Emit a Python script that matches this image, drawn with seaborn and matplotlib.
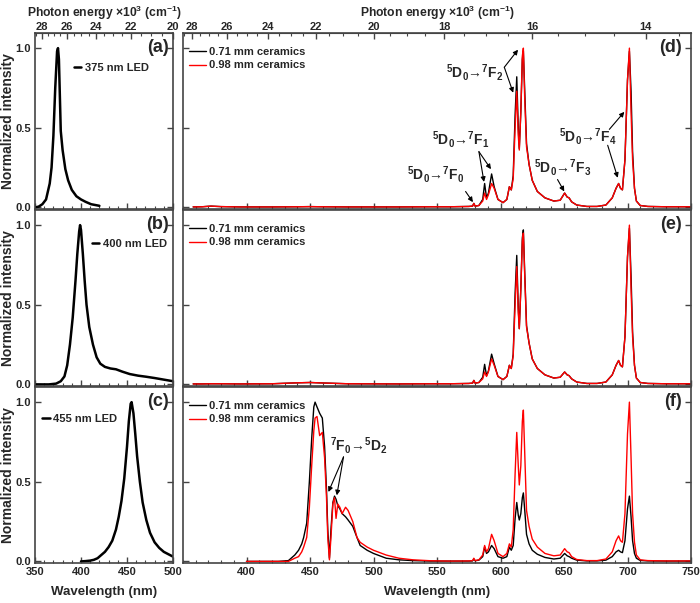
import numpy as np
import matplotlib
matplotlib.use('Agg')
import matplotlib.pyplot as plt
import seaborn as sns
from matplotlib.ticker import MultipleLocator, FixedLocator

# ---- LED spectra (left column) ----
a_wl = [350, 354, 358, 362, 366, 368, 370, 372, 374, 375, 376, 378, 380, 383, 386, 390, 395, 400, 405, 411, 420]
a_int = [0.0, 0.005, 0.02, 0.05, 0.15, 0.25, 0.45, 0.75, 0.98, 1.0, 0.93, 0.48, 0.36, 0.24, 0.17, 0.11, 0.07, 0.05, 0.035, 0.02, 0.01]

b_wl = [350, 365, 373, 378, 382, 385, 388, 391, 394, 396, 398, 399, 400, 402, 404, 406, 409, 413, 417, 421, 426,
        432, 438, 445, 453, 462, 471, 480, 490, 500]
b_int = [0, 0, 0.005, 0.02, 0.05, 0.12, 0.25, 0.42, 0.65, 0.82, 0.96, 1.0, 0.97, 0.82, 0.65, 0.5, 0.36, 0.25, 0.17,
         0.13, 0.11, 0.10, 0.095, 0.08, 0.065, 0.055, 0.048, 0.04, 0.03, 0.02]

c_wl = [400, 405, 410, 414, 418, 422, 426, 430, 434, 438, 441, 444, 447, 450, 452, 454, 455, 457, 459, 461, 464,
        467, 471, 475, 480, 485, 490, 495, 500]
c_int = [0, 0.002, 0.005, 0.01, 0.02, 0.04, 0.06, 0.09, 0.13, 0.2, 0.28, 0.38, 0.52, 0.72, 0.88, 0.99, 1.0, 0.93,
         0.8, 0.66, 0.5, 0.37, 0.26, 0.18, 0.12, 0.085, 0.06, 0.045, 0.03]

# ---- ceramics spectra (right column) ----
de_pre_wl = [358, 365, 372, 380, 395, 420, 440, 450, 460, 480, 520, 545]
d_pre = [0.003, 0.004, 0.008, 0.005, 0.003, 0.003, 0.004, 0.005, 0.004, 0.003, 0.003, 0.004]
e_pre = [0.003, 0.003, 0.004, 0.004, 0.003, 0.004, 0.01, 0.012, 0.009, 0.004, 0.003, 0.004]

f_pre_wl = [400, 425, 433, 438, 441, 443.5, 445, 447.4, 449.5, 451.4, 453, 454, 455.5, 457.6, 459.7, 461.5, 463,
            464, 465.3, 466.5, 468, 469.3, 470.5, 471.9, 473.5, 475.3, 478, 480, 483.7, 487, 489.5, 495, 500, 510,
            520, 531, 545]
f_pre_black = [0, 0, 0.005, 0.04, 0.07, 0.11, 0.15, 0.24, 0.5, 0.78, 0.97, 1.0, 0.97, 0.93, 0.9, 0.72, 0.45, 0.2,
               0.02, 0.2, 0.37, 0.41, 0.39, 0.35, 0.33, 0.30, 0.28, 0.26, 0.22, 0.15, 0.10, 0.07, 0.05, 0.02, 0.01,
               0.005, 0.002]
f_pre_red = [0, 0, 0, 0.02, 0.03, 0.06, 0.09, 0.15, 0.34, 0.61, 0.82, 0.9, 0.91, 0.79, 0.81, 0.65, 0.4, 0.15, 0.01,
             0.15, 0.36, 0.40, 0.27, 0.36, 0.34, 0.30, 0.34, 0.32, 0.25, 0.15, 0.12, 0.09, 0.07, 0.04, 0.02, 0.01,
             0.004]

eu_wl = [560, 575, 578, 579, 580, 583, 586, 587.5, 589, 590.5, 593, 595, 598, 602, 605, 607, 608.5, 610, 611.5,
         612.8, 614, 614.8, 616, 617.2, 618, 619, 620.5, 622.5, 625, 629, 635, 642, 647, 650.5, 652.5, 654, 656,
         660, 668, 676, 683, 688, 691, 693, 694.5, 696, 698, 700, 701.5, 702.8, 704, 705.5, 707, 710, 716, 730, 750]
d_red = [0.004, 0.006, 0.008, 0.025, 0.008, 0.012, 0.04, 0.09, 0.05, 0.08, 0.15, 0.12, 0.05, 0.03, 0.05, 0.13,
         0.11, 0.18, 0.5, 0.73, 0.45, 0.36, 0.6, 0.95, 1.0, 0.7, 0.38, 0.27, 0.17, 0.1, 0.06, 0.04, 0.045, 0.09,
         0.065, 0.06, 0.035, 0.015, 0.006, 0.006, 0.015, 0.06, 0.12, 0.15, 0.12, 0.11, 0.3, 0.8, 1.0, 0.6, 0.3,
         0.12, 0.04, 0.012, 0.006, 0.004, 0.004]
d_black = [0.004, 0.006, 0.008, 0.025, 0.008, 0.012, 0.05, 0.15, 0.06, 0.09, 0.21, 0.13, 0.05, 0.03, 0.05, 0.13,
           0.11, 0.2, 0.58, 0.82, 0.5, 0.37, 0.6, 0.93, 0.98, 0.75, 0.4, 0.27, 0.17, 0.1, 0.06, 0.04, 0.045, 0.09,
           0.065, 0.06, 0.035, 0.015, 0.006, 0.006, 0.015, 0.06, 0.12, 0.15, 0.12, 0.11, 0.3, 0.8, 0.98, 0.73, 0.35,
           0.12, 0.04, 0.012, 0.006, 0.004, 0.004]
e_red = [0.004, 0.006, 0.008, 0.025, 0.008, 0.012, 0.035, 0.078, 0.05, 0.08, 0.16, 0.12, 0.05, 0.03, 0.05, 0.12,
         0.1, 0.18, 0.5, 0.74, 0.45, 0.35, 0.6, 0.9, 0.95, 0.7, 0.36, 0.26, 0.16, 0.1, 0.06, 0.04, 0.045, 0.078,
         0.06, 0.055, 0.035, 0.015, 0.006, 0.006, 0.015, 0.06, 0.12, 0.15, 0.12, 0.11, 0.3, 0.8, 1.0, 0.6, 0.3,
         0.12, 0.04, 0.012, 0.006, 0.004, 0.004]
e_black = [0.004, 0.006, 0.008, 0.025, 0.008, 0.012, 0.045, 0.126, 0.055, 0.085, 0.19, 0.13, 0.05, 0.03, 0.05,
           0.12, 0.1, 0.19, 0.57, 0.81, 0.48, 0.35, 0.6, 0.92, 0.97, 0.72, 0.37, 0.26, 0.16, 0.1, 0.06, 0.04, 0.045,
           0.078, 0.06, 0.055, 0.035, 0.015, 0.006, 0.006, 0.015, 0.06, 0.12, 0.15, 0.12, 0.11, 0.3, 0.8, 0.98,
           0.68, 0.33, 0.12, 0.04, 0.012, 0.006, 0.004, 0.004]
f_red = [0.002, 0.003, 0.005, 0.02, 0.005, 0.01, 0.04, 0.10, 0.06, 0.08, 0.17, 0.13, 0.05, 0.03, 0.05, 0.11, 0.09,
         0.2, 0.55, 0.81, 0.6, 0.48, 0.6, 0.88, 0.95, 0.7, 0.32, 0.22, 0.14, 0.09, 0.05, 0.035, 0.04, 0.08, 0.06,
         0.055, 0.03, 0.012, 0.005, 0.005, 0.015, 0.06, 0.13, 0.16, 0.13, 0.12, 0.3, 0.8, 1.0, 0.65, 0.3, 0.12,
         0.04, 0.01, 0.005, 0.003, 0.003]
f_black = [0.002, 0.002, 0.003, 0.015, 0.004, 0.008, 0.03, 0.09, 0.05, 0.06, 0.10, 0.08, 0.03, 0.02, 0.03, 0.09,
           0.07, 0.1, 0.27, 0.37, 0.29, 0.26, 0.3, 0.4, 0.43, 0.33, 0.17, 0.11, 0.07, 0.045, 0.025, 0.015, 0.02,
           0.05, 0.035, 0.03, 0.02, 0.008, 0.003, 0.003, 0.008, 0.03, 0.06, 0.07, 0.06, 0.055, 0.13, 0.33, 0.41,
           0.28, 0.13, 0.05, 0.02, 0.006, 0.003, 0.002, 0.002]

sns.set_style('ticks')
plt.rcParams['font.family'] = ['Liberation Sans', 'DejaVu Sans']
plt.rcParams['font.weight'] = 'bold'
plt.rcParams['axes.labelweight'] = 'bold'
plt.rcParams['mathtext.default'] = 'regular'

SPINE = '#444444'
W, H = 700, 603
fig = plt.figure(figsize=(7, 6.03), dpi=100)

def add_ax(x0, x1, y0, y1):
    return fig.add_axes([x0 / W, (H - y1) / H, (x1 - x0) / W, (y1 - y0) / H])

rows = [(33, 209), (210, 386), (387, 563)]
left_axes = [add_ax(35, 173, r0, r1) for r0, r1 in rows]
right_axes = [add_ax(183, 691, r0, r1) for r0, r1 in rows]

def wl2e(x):
    x = np.asarray(x, dtype=float)
    with np.errstate(divide='ignore', invalid='ignore'):
        return 1e4 / x

def style(ax, left, bottom_labels):
    ax.set_ylim(-0.01, 1.095)
    ax.yaxis.set_major_locator(FixedLocator([0.0, 0.5, 1.0]))
    if left:
        ax.set_xlim(350, 500)
        ax.xaxis.set_major_locator(FixedLocator([350, 400, 450, 500]))
        ax.set_yticklabels(['0.0', '0.5', '1.0'])
        ax.set_ylabel('Normalized intensity', fontsize=10)
        ax.yaxis.set_label_coords(-0.145, 0.5)
    else:
        ax.set_xlim(350, 750)
        ax.xaxis.set_major_locator(FixedLocator(list(range(400, 751, 50))))
        ax.set_yticklabels([])
        ax.set_ylabel('')
    ax.xaxis.set_minor_locator(MultipleLocator(10))
    ax.tick_params(which='both', direction='in', right=True, top=False, color=SPINE, labelsize=8, pad=3)
    ax.tick_params(which='major', length=4, width=1)
    ax.tick_params(which='minor', length=2, width=0.8)
    if bottom_labels:
        ax.set_xlabel('Wavelength (nm)', fontsize=9.5, labelpad=6)
    else:
        ax.set_xlabel('')
        ax.set_xticklabels([])
    for s in ax.spines.values():
        s.set_color(SPINE)
        s.set_linewidth(1.2)

def add_top(ax, ticks):
    sec = ax.secondary_xaxis('top', functions=(wl2e, wl2e))
    sec.set_xticks(ticks)
    sec.xaxis.set_minor_locator(MultipleLocator(0.5))
    sec.tick_params(which='both', direction='in', color=SPINE, labelsize=8, pad=1)
    sec.tick_params(which='major', length=4, width=1)
    sec.tick_params(which='minor', length=2, width=0.8)
    sec.set_xlabel('Photon energy $\\times$10$^3$ (cm$^{-1}$)', fontsize=8.7, labelpad=3)
    sec.spines['top'].set_color(SPINE)

# left column
led = [(a_wl, a_int, '375 nm LED', (0.28, 0.80)),
       (b_wl, b_int, '400 nm LED', (0.41, 0.807)),
       (c_wl, c_int, '455 nm LED', (0.05, 0.818))]
for i, (ax, (wl, it, lab, pos)) in enumerate(zip(left_axes, led)):
    sns.lineplot(x=wl, y=it, ax=ax, color='black', lw=1.8, label=lab, sort=False, estimator=None)
    ax.legend(loc='center left', bbox_to_anchor=pos, frameon=False, handlelength=0.7, handletextpad=0.3,
              borderpad=0, borderaxespad=0, fontsize=8)
    style(ax, True, i == 2)
    ax.text(0.97, 0.915, '(%s)' % 'abc'[i], transform=ax.transAxes, ha='right', va='center',
            fontsize=13, fontweight='bold')
add_top(left_axes[0], [28, 26, 24, 22, 20])

# right column
series = [(de_pre_wl + eu_wl, d_pre + d_black, d_pre + d_red),
          (de_pre_wl + eu_wl, e_pre + e_black, e_pre + e_red),
          (f_pre_wl + eu_wl, f_pre_black + f_black, f_pre_red + f_red)]
for i, (ax, (wl, blk, red)) in enumerate(zip(right_axes, series)):
    sns.lineplot(x=wl, y=blk, ax=ax, color='black', lw=1.0, label='0.71 mm ceramics', sort=False, estimator=None)
    sns.lineplot(x=wl, y=red, ax=ax, color='red', lw=1.0, label='0.98 mm ceramics', sort=False, estimator=None)
    ax.legend(loc='center left', bbox_to_anchor=(0.012, 0.855), frameon=False, handlelength=1.5,
              handletextpad=0.3, labelspacing=0.35, borderpad=0, borderaxespad=0, fontsize=8)
    style(ax, False, i == 2)
    ax.text(0.982, 0.915, '(%s)' % 'def'[i], transform=ax.transAxes, ha='right', va='center',
            fontsize=13, fontweight='bold')
add_top(right_axes[0], [28, 26, 24, 22, 20, 18, 16, 14])

# transition labels
arrow = dict(arrowstyle='-|>', color='black', lw=0.8, mutation_scale=7, shrinkA=0, shrinkB=0)
axd = right_axes[0]
labels_d = [
    ('$^5$D$_0$→$^7$F$_2$', (579.9, 0.85), (603, 0.88), [(613.8, 0.99), (610, 0.72)]),
    ('$^5$D$_0$→$^7$F$_1$', (568.6, 0.425), (583, 0.35), [(587, 0.16), (592.5, 0.24)]),
    ('$^5$D$_0$→$^7$F$_0$', (548.8, 0.206), (572.5, 0.10), [(578.3, 0.033)]),
    ('$^5$D$_0$→$^7$F$_3$', (648.8, 0.248), (644.9, 0.175), [(650.2, 0.10)]),
]
for txt, tpos, start, tips in labels_d:
    axd.text(tpos[0], tpos[1], txt, ha='center', va='center', fontsize=10, fontweight='bold')
    for tip in tips:
        axd.annotate('', xy=tip, xytext=start, arrowprops=arrow)
axd.text(668.6, 0.446, '$^5$D$_0$→$^7$F$_4$', ha='center', va='center', fontsize=10, fontweight='bold')
axd.annotate('', xy=(697.5, 0.60), xytext=(685.7, 0.49), arrowprops=arrow)
axd.annotate('', xy=(692.3, 0.186), xytext=(684.4, 0.39), arrowprops=arrow)

axf = right_axes[2]
axf.text(488.2, 0.73, '$^7$F$_0$→$^5$D$_2$', ha='center', va='center', fontsize=10, fontweight='bold')
axf.annotate('', xy=(464.5, 0.436), xytext=(476.4, 0.656), arrowprops=arrow)
axf.annotate('', xy=(471.1, 0.415), xytext=(476.4, 0.656), arrowprops=arrow)

fig.savefig('out.png', dpi=100)
